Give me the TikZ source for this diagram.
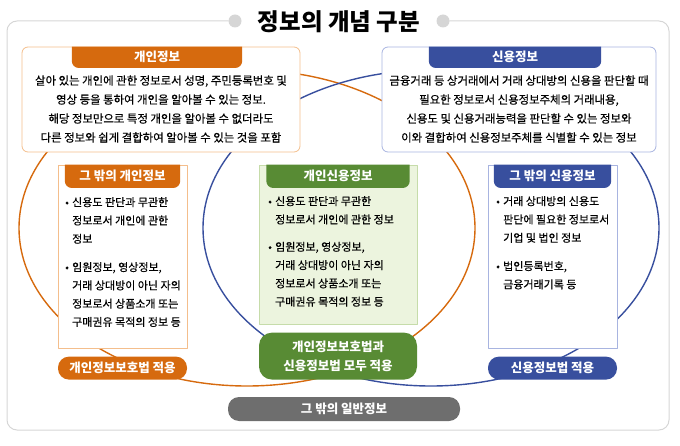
\documentclass[tikz,border=0pt]{standalone}
\usepackage{fontspec}
\setmainfont{Noto Sans CJK KR}
\usetikzlibrary{positioning}
\definecolor{porange}{RGB}{214,106,14}
\definecolor{plight}{RGB}{244,190,140}
\definecolor{cblue}{RGB}{56,79,158}
\definecolor{clight}{RGB}{168,180,224}
\definecolor{pcgreen}{RGB}{88,139,52}
\definecolor{pcfill}{RGB}{236,244,222}
\definecolor{pcline}{RGB}{198,220,170}
\definecolor{etcgray}{RGB}{110,110,110}
\definecolor{framegray}{RGB}{214,214,214}
\newcommand{\bitem}{\makebox[7pt][l]{•}}
\newcommand{\bcont}{\hspace*{7pt}}
\tikzset{
  infobox/.style={draw, fill=white, line width=0.8pt, rounded corners=6pt, inner sep=0pt},
  tab/.style={inner sep=0pt},
  tabtext/.style={text=white, inner sep=0pt, font=\bfseries\fontsize{12.5}{14}\selectfont},
  lawtag/.style={text=white, rounded corners=11pt, inner sep=0pt, align=center, font=\bfseries\fontsize{12.5}{19}\selectfont},
  toptext/.style={align=center, inner sep=0pt, font=\addfontfeature{FakeBold=0.4}\fontsize{11.4}{19}\selectfont},
  listtext/.style={align=left, inner sep=0pt, anchor=north west, font=\addfontfeature{FakeBold=0.4}\fontsize{11}{18.3}\selectfont},
  dot/.style={circle, fill=framegray, minimum size=13pt, inner sep=0pt}
}
\begin{document}
\begin{tikzpicture}[line cap=round,line join=round,x=1pt,y=1pt]
\useasboundingbox (0,0) rectangle (680,445);
\node[dot] (ldot) at (235,424) {};
\node[dot] (rdot) at (443,424) {};
\draw[framegray, line width=1pt, rounded corners=10pt] (ldot) -- (7,424) -- (7,15) -- (669,15) -- (669,424) -- (rdot);
\node[font=\bfseries\fontsize{23.5}{26}\selectfont] (title) at (339,423) {정보의 개념 구분};

\draw[porange, line width=1.4pt] (247,217) ellipse [x radius=228, y radius=158];
\draw[cblue, line width=1.4pt] (431,217) ellipse [x radius=228, y radius=158];

\node[infobox, draw=plight, minimum width=278pt, minimum height=105pt] (pbox) at (161,345.5) {};
\node[infobox, draw=clight, minimum width=274pt, minimum height=105pt] (cbox) at (519,345.5) {};
\node[infobox, draw=plight, sharp corners, minimum width=129pt, minimum height=183pt] (opbox) at (122.5,188.5) {};
\node[infobox, draw=pcline, fill=pcfill, sharp corners, minimum width=158pt, minimum height=159pt] (pcbox) at (338,200.5) {};
\node[infobox, draw=clight, sharp corners, minimum width=129pt, minimum height=183pt] (ocbox) at (552.5,188.5) {};

\node[tab, minimum width=170pt, minimum height=21pt, anchor=north, xshift=-4pt] (ptab) at (pbox.north) {};
\node[tab, minimum width=172pt, minimum height=21pt, anchor=north, xshift=-4pt] (ctab) at (cbox.north) {};
\node[tab, minimum width=115pt, minimum height=23pt, anchor=north] (optab) at (opbox.north) {};
\node[tab, minimum width=143pt, minimum height=23pt, anchor=north] (pctab) at (pcbox.north) {};
\node[tab, minimum width=117pt, minimum height=23pt, anchor=north] (octab) at (ocbox.north) {};
\foreach \t/\c/\s in {ptab/porange/개인정보, ctab/cblue/신용정보, optab/porange/그 밖의 개인정보, pctab/pcgreen/개인신용정보, octab/cblue/그 밖의 신용정보}{
  \fill[\c] (\t.north west) [rounded corners=7pt] -- (\t.south west) -- (\t.south east) [sharp corners] -- (\t.north east) -- cycle;
  \node[tabtext] (\t-label) at (\t) {\s};
}

\node[toptext] (ptext) at (161,336) {살아 있는 개인에 관한 정보로서 성명, 주민등록번호 및\\영상 등을 통하여 개인을 알아볼 수 있는 정보.\\해당 정보만으로 특정 개인을 알아볼 수 없더라도\\다른 정보와 쉽게 결합하여 알아볼 수 있는 것을 포함};
\node[toptext] (ctext) at (519,336) {금융거래 등 상거래에서 거래 상대방의 신용을 판단할 때\\필요한 정보로서 신용정보주체의 거래내용,\\신용도 및 신용거래능력을 판단할 수 있는 정보와\\이와 결합하여 신용정보주체를 식별할 수 있는 정보};

\node[listtext] (optext) at (65,248) {\bitem 신용도 판단과 무관한\\\bcont 정보로서 개인에 관한\\\bcont 정보\\[10pt]\bitem 임원정보, 영상정보,\\\bcont 거래 상대방이 아닌 자의\\\bcont 정보로서 상품소개 또는\\\bcont 구매권유 목적의 정보 등};
\node[listtext] (pctext) at (268,249) {\bitem 신용도 판단과 무관한\\\bcont 정보로서 개인에 관한 정보\\[9pt]\bitem 임원정보, 영상정보,\\\bcont 거래 상대방이 아닌 자의\\\bcont 정보로서 상품소개 또는\\\bcont 구매권유 목적의 정보 등};
\node[listtext] (octext) at (496,249) {\bitem 거래 상대방의 신용도\\\bcont 판단에 필요한 정보로서\\\bcont 기업 및 법인 정보\\[10pt]\bitem 법인등록번호,\\\bcont 금융거래기록 등};

\node[lawtag, fill=porange, minimum width=129pt, minimum height=23pt, below=8pt of opbox] (plaw) {개인정보보호법 적용};
\node[lawtag, fill=cblue, minimum width=129pt, minimum height=23pt, below=8pt of ocbox] (claw) {신용정보법 적용};
\node[lawtag, fill=pcgreen, rounded corners=13pt, minimum width=158pt, minimum height=47pt, below=8pt of pcbox] (pclaw) {개인정보보호법과\\신용정보법 모두 적용};
\node[lawtag, fill=etcgray, minimum width=232pt, minimum height=24pt] (etc) at (344,36) {그 밖의 일반정보};
\end{tikzpicture}
\end{document}
